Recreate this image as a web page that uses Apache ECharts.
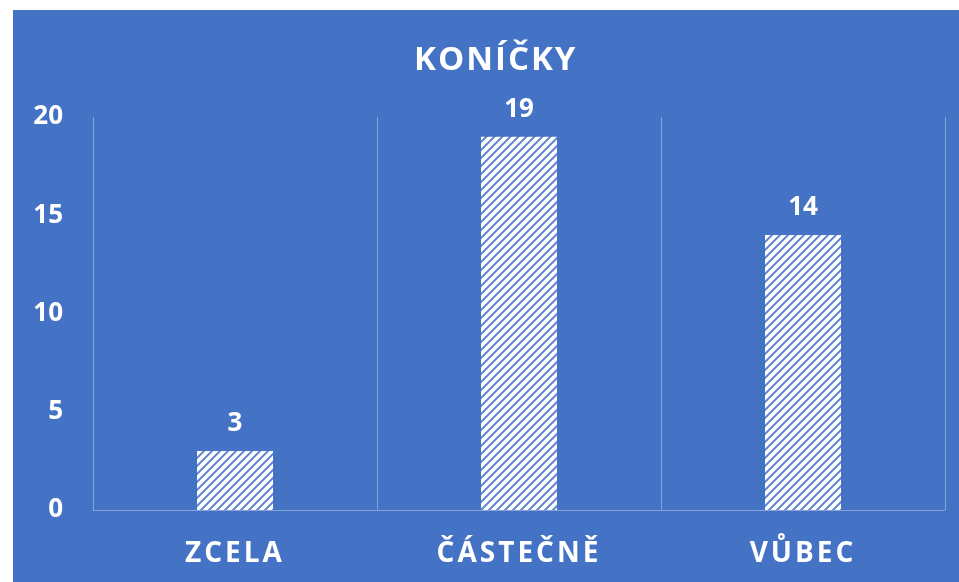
<!DOCTYPE html>
<html>
<head>
<meta charset="utf-8">
<script src="https://cdn.jsdelivr.net/npm/echarts@6/dist/echarts.min.js"></script>
<style>
  html, body { margin: 0; padding: 0; background: #fff; }
  #main { position: absolute; left: 13px; top: 10px; width: 946px; height: 572px; }
</style>
</head>
<body>
<div id="main"></div>
<script>
var categories = ['ZCELA', 'ČÁSTEČNĚ', 'VŮBEC'];
var values = [3, 19, 14];
var yTicks = [0, 5, 10, 15, 20];

var blue = '#4472C4';

// office style spaced caps: give letter spacing by font size
var spacing = { '28px': '3px', '33px': '2px' };
var origFillText = CanvasRenderingContext2D.prototype.fillText;
CanvasRenderingContext2D.prototype.fillText = function () {
  var m = /(\d+)px/.exec(this.font);
  this.letterSpacing = (m && spacing[m[0]]) || '0px';
  return origFillText.apply(this, arguments);
};

// diagonal hatch fill
function makeHatch() {
  var c = document.createElement('canvas');
  c.width = 8; c.height = 8;
  var ctx = c.getContext('2d');
  ctx.fillStyle = '#ffffff';
  ctx.fillRect(0, 0, 8, 8);
  ctx.strokeStyle = '#6388cf';
  ctx.lineWidth = 2;
  ctx.beginPath();
  ctx.moveTo(-2, 10); ctx.lineTo(10, -2);
  ctx.moveTo(-2, 2); ctx.lineTo(2, -2);
  ctx.moveTo(6, 10); ctx.lineTo(10, 6);
  ctx.stroke();
  return c;
}

var font = '"Open Sans", "Noto Sans", sans-serif';
var myChart = echarts.init(document.getElementById('main'));
var option = {
  backgroundColor: blue,
  title: {
    text: 'KONÍČKY',
    left: 396,
    top: 29,
    textStyle: { color: '#fff', fontSize: 33, fontWeight: 'bold', fontFamily: font }
  },
  grid: { left: 80, right: 14, top: 107, bottom: 72 },
  xAxis: {
    type: 'category',
    data: categories,
    axisLine: { show: true, lineStyle: { color: 'rgba(255,255,255,0.35)', width: 1 } },
    axisTick: { show: false },
    splitLine: { show: true, lineStyle: { color: 'rgba(255,255,255,0.35)', width: 1 } },
    axisLabel: { color: '#fff', fontSize: 28, fontWeight: 'bold', fontFamily: font, margin: 30 }
  },
  yAxis: {
    type: 'value',
    min: yTicks[0],
    max: yTicks[yTicks.length - 1],
    interval: 5,
    axisLine: { show: false },
    axisTick: { show: false },
    splitLine: { show: false },
    axisLabel: { color: '#fff', fontSize: 26, fontWeight: 'bold', fontFamily: font, margin: 30 }
  },
  series: [{
    type: 'bar',
    data: values,
    barWidth: 76,
    itemStyle: { color: { image: makeHatch(), repeat: 'repeat' } },
    label: {
      show: true,
      position: 'top',
      distance: 14,
      color: '#fff',
      fontSize: 26,
      fontWeight: 'bold',
      fontFamily: font
    }
  }]
};
option && myChart.setOption(option);
</script>
</body>
</html>
